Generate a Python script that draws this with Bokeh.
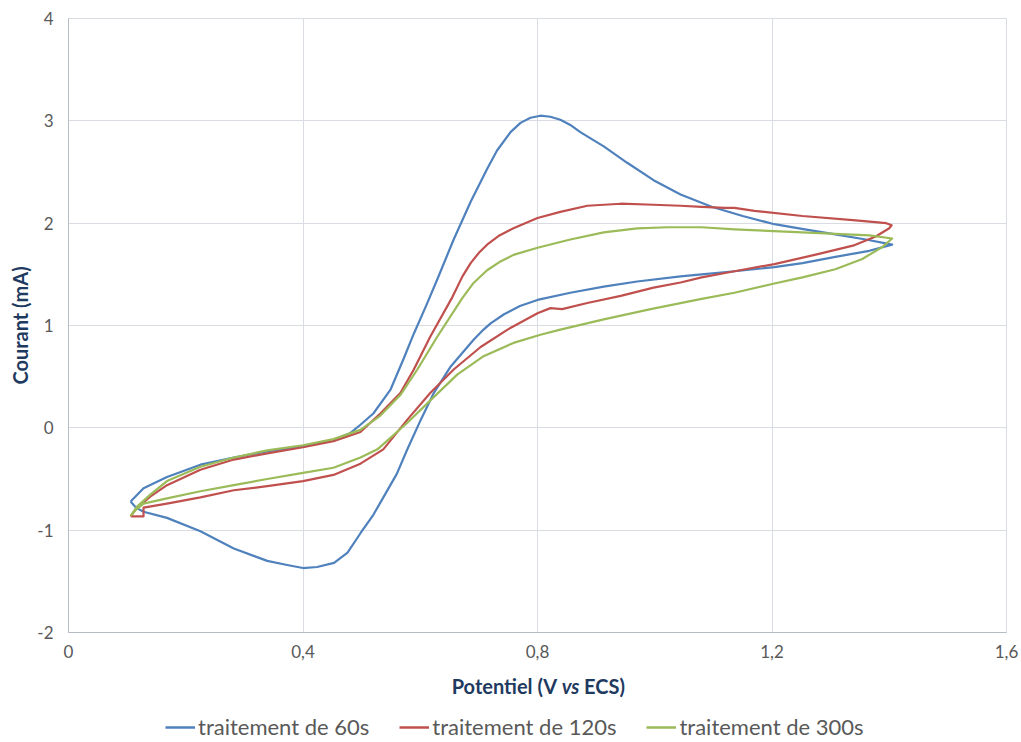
from bokeh.plotting import figure
from bokeh.layouts import column
from bokeh.models import (Range1d, FixedTicker, CustomJSTickFormatter, Legend,
                          LegendItem, Label, ColumnDataSource)
from bokeh.embed import file_html
from bokeh.resources import INLINE

# ---------------- data ----------------
x_ticks = [0, 0.4, 0.8, 1.2, 1.6]
y_ticks = [-2, -1, 0, 1, 2, 3, 4]
series_names = ["traitement de 60s", "traitement de 120s", "traitement de 300s"]
x_title = ["Potentiel (V", "vs", "ECS)"]
y_title = "Courant (mA)"

pot_60s = [0.106, 0.128, 0.168, 0.225, 0.282, 0.339, 0.400, 0.452, 0.481, 0.498,
           0.520, 0.549, 0.572, 0.589, 0.609, 0.629, 0.657, 0.686, 0.714, 0.731,
           0.754, 0.771, 0.788, 0.805, 0.822, 0.839, 0.856, 0.873, 0.913, 0.953,
           0.998, 1.044, 1.097, 1.150, 1.204, 1.256, 1.308, 1.360, 1.405,
           1.366, 1.308, 1.252, 1.204, 1.136, 1.080, 1.044, 0.970, 0.913, 0.856,
           0.800, 0.770, 0.743, 0.720, 0.708, 0.691, 0.652, 0.623, 0.601, 0.578,
           0.560, 0.540, 0.520, 0.498, 0.476, 0.453, 0.424, 0.400, 0.373, 0.339,
           0.282, 0.225, 0.168, 0.128, 0.115, 0.106]
cur_60s = [-0.72, -0.59, -0.48, -0.36, -0.29, -0.23, -0.18, -0.12, -0.05, 0.03,
           0.14, 0.37, 0.68, 0.92, 1.18, 1.45, 1.84, 2.21, 2.53, 2.71,
           2.89, 2.98, 3.03, 3.05, 3.04, 3.01, 2.96, 2.89, 2.75, 2.59,
           2.42, 2.28, 2.16, 2.07, 1.99, 1.94, 1.89, 1.84, 1.79,
           1.73, 1.67, 1.61, 1.57, 1.53, 1.50, 1.48, 1.43, 1.38, 1.32,
           1.25, 1.19, 1.11, 1.02, 0.96, 0.86, 0.60, 0.34, 0.08, -0.21,
           -0.45, -0.65, -0.85, -1.03, -1.22, -1.32, -1.36, -1.37, -1.34, -1.30,
           -1.18, -1.01, -0.88, -0.82, -0.78, -0.72]

pot_120s = [0.106, 0.117, 0.140, 0.168, 0.225, 0.282, 0.339, 0.400, 0.452, 0.498,
            0.532, 0.566, 0.589, 0.617, 0.655, 0.672, 0.686, 0.700, 0.714, 0.735,
            0.759, 0.800, 0.839, 0.885, 0.942, 0.998, 1.044, 1.080, 1.120, 1.136,
            1.170, 1.252, 1.338, 1.395, 1.404,
            1.400, 1.377, 1.338, 1.280, 1.204, 1.136, 1.080, 1.044, 0.998, 0.942,
            0.885, 0.842, 0.822, 0.800, 0.749, 0.703, 0.657, 0.617, 0.578, 0.537,
            0.498, 0.452, 0.400, 0.339, 0.282, 0.225, 0.168, 0.128, 0.128, 0.106]
cur_120s = [-0.865, -0.78, -0.67, -0.56, -0.41, -0.31, -0.25, -0.19, -0.13, -0.04,
            0.14, 0.34, 0.57, 0.89, 1.28, 1.48, 1.61, 1.71, 1.79, 1.88,
            1.95, 2.05, 2.11, 2.17, 2.19, 2.18, 2.17, 2.16, 2.15, 2.15,
            2.12, 2.07, 2.03, 2.00, 1.98,
            1.95, 1.87, 1.78, 1.70, 1.60, 1.53, 1.47, 1.42, 1.37, 1.29,
            1.22, 1.16, 1.17, 1.12, 0.96, 0.79, 0.57, 0.34, 0.08, -0.21,
            -0.35, -0.46, -0.52, -0.57, -0.61, -0.68, -0.74, -0.78, -0.865, -0.865]

pot_300s = [0.106, 0.117, 0.140, 0.168, 0.225, 0.282, 0.339, 0.400, 0.452, 0.498,
            0.532, 0.566, 0.595, 0.629, 0.672, 0.690, 0.714, 0.735, 0.759, 0.800,
            0.856, 0.913, 0.970, 1.022, 1.080, 1.136, 1.252, 1.366, 1.405,
            1.389, 1.354, 1.308, 1.252, 1.204, 1.136, 1.080, 0.993, 0.913, 0.839,
            0.805, 0.759, 0.708, 0.663, 0.623, 0.578, 0.527, 0.498, 0.452, 0.400,
            0.339, 0.282, 0.225, 0.168, 0.128, 0.115, 0.106]
cur_300s = [-0.86, -0.77, -0.65, -0.52, -0.38, -0.29, -0.22, -0.17, -0.11, -0.02,
            0.12, 0.32, 0.57, 0.89, 1.27, 1.41, 1.54, 1.62, 1.69, 1.76,
            1.84, 1.91, 1.95, 1.96, 1.96, 1.94, 1.91, 1.88, 1.85,
            1.77, 1.65, 1.55, 1.47, 1.41, 1.32, 1.26, 1.16, 1.06, 0.96,
            0.91, 0.83, 0.70, 0.52, 0.30, 0.05, -0.21, -0.29, -0.39, -0.44,
            -0.50, -0.56, -0.62, -0.69, -0.74, -0.80, -0.86]

colors = ["#4F81BD", "#C0504D", "#9BBB59"]
series = [(pot_60s, cur_60s), (pot_120s, cur_120s), (pot_300s, cur_300s)]

# ---------------- style ----------------
FONT = "Lato"
TITLE_COLOR = "#1F3A60"
TICK_COLOR = "#595959"
GRID = "#D9DDE3"
W, H1, H2 = 1021, 670, 72
LEFT, RIGHT = 68, 15

x_range = Range1d(0, 1.6)

# ---------------- main plot ----------------
p = figure(width=W, height=H1, x_range=x_range, y_range=Range1d(-2, 4),
           output_backend="svg", toolbar_location=None,
           min_border_left=LEFT, min_border_right=RIGHT, min_border_top=18,
           min_border_bottom=38)
p.background_fill_color = "white"
p.border_fill_color = "white"
p.outline_line_color = GRID

for ax in (p.xaxis[0], p.yaxis[0]):
    ax.major_tick_out = 0
    ax.major_tick_in = 0
    ax.minor_tick_out = 0
    ax.minor_tick_in = 0
    ax.axis_line_color = "#B4BCC8"
    ax.axis_line_width = 1
    ax.major_label_text_font = FONT
    ax.major_label_text_font_size = "17px"
    ax.major_label_text_color = TICK_COLOR

p.xaxis[0].ticker = FixedTicker(ticks=x_ticks)
p.yaxis[0].ticker = FixedTicker(ticks=y_ticks)
p.xaxis[0].formatter = CustomJSTickFormatter(
    code="return (Math.round(tick*10)/10).toString().replace('.', ',');")
p.yaxis[0].formatter = CustomJSTickFormatter(code="return Math.round(tick).toString();")
p.xaxis[0].major_label_standoff = 12
p.yaxis[0].major_label_standoff = 15
p.yaxis[0].axis_label = y_title
p.yaxis[0].axis_label_text_font = FONT
p.yaxis[0].axis_label_text_font_size = "20px"
p.yaxis[0].axis_label_text_font_style = "bold"
p.yaxis[0].axis_label_text_color = TITLE_COLOR
p.yaxis[0].axis_label_standoff = 2

p.xgrid.ticker = FixedTicker(ticks=x_ticks)
p.ygrid.ticker = FixedTicker(ticks=y_ticks)
p.xgrid.grid_line_color = GRID
p.ygrid.grid_line_color = GRID

for (xs, ys), c in zip(series, colors):
    src = ColumnDataSource(dict(x=xs, y=ys))
    p.line("x", "y", source=src, line_color=c, line_width=2.2, line_join="round")

# ---------------- bottom strip: x title + legend ----------------
# its y range sits far above the data, so the legend renderers stay out of view
q = figure(width=W, height=H2, x_range=x_range, y_range=Range1d(10, 10 + H2),
           output_backend="svg", toolbar_location=None,
           x_axis_type=None, y_axis_type=None,
           min_border_left=LEFT, min_border_right=RIGHT, min_border_top=0,
           min_border_bottom=0)
q.outline_line_color = None
q.grid.visible = False
q.background_fill_color = "white"
q.border_fill_color = "white"

title_style = dict(text_font=FONT, text_font_size="20px", text_color=TITLE_COLOR,
                   text_font_style="bold", text_baseline="middle")
ty = 10 + H2 - 15
q.add_layout(Label(x=0.8333, y=ty, text=x_title[0], text_align="right", **title_style))
vs_style = dict(title_style)
vs_style["text_font_style"] = "bold italic"
q.add_layout(Label(x=0.8563, y=ty, text=x_title[1], text_align="center", **vs_style))
q.add_layout(Label(x=0.8793, y=ty, text=x_title[2], text_align="left", **title_style))

items = []
for name, (xs, ys), c in zip(series_names, series, colors):
    src = ColumnDataSource(dict(x=xs, y=ys))
    r = q.line("x", "y", source=src, line_color=c, line_width=2.5)
    items.append(LegendItem(label=name, renderers=[r]))
legend = Legend(items=items, orientation="horizontal", location=(97, 2),
                glyph_width=30, glyph_height=20, label_height=20, label_standoff=3,
                spacing=30, padding=0, margin=0,
                border_line_color=None, background_fill_alpha=0,
                label_text_font=FONT, label_text_font_size="22px",
                label_text_color=TICK_COLOR, label_text_baseline="middle")
q.add_layout(legend)

layout = column(p, q, spacing=0)
open("out.html", "w").write(file_html(layout, INLINE))
